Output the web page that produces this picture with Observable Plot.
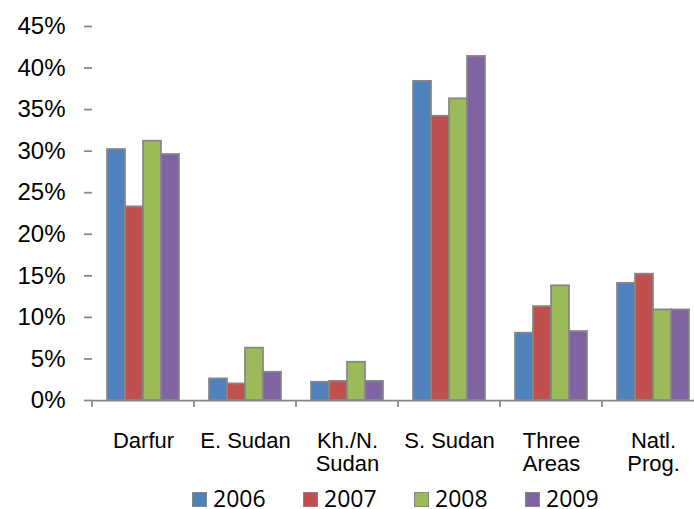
<!DOCTYPE html>
<html>
<head>
<meta charset="utf-8">
<script src="https://cdn.jsdelivr.net/npm/d3@7"></script>
<script src="https://cdn.jsdelivr.net/npm/@observablehq/plot@0.6"></script>
<style>
  html, body { margin: 0; padding: 0; background: #fff; overflow: hidden; }
  #chart svg { display: block; }
  .legend {
    display: flex;
    padding: 5px 0 0 192px;
    font-family: "Open Sans", sans-serif;
    font-size: 23px;
    line-height: 22px;
    color: #000;
  }
  .legend .item { display: flex; align-items: flex-start; width: 111px; }
  .legend .item span { display: inline-block; height: 22px; overflow: visible; }
  .legend .swatch {
    box-sizing: border-box;
    width: 15px; height: 15px;
    border: 1.5px solid #878787;
    margin: 5px 6px 0 0;
  }
</style>
</head>
<body>
<div id="chart"></div>
<script>
// Programme regions (line breaks mark the two-line labels)
const categories = ["Darfur", "E. Sudan", "Kh./N.\nSudan", "S. Sudan", "Three\nAreas", "Natl.\nProg."];
const years = ["2006", "2007", "2008", "2009"];

// Share of the total, in percent, per region
const share2006 = [30.2, 2.6, 2.2, 38.4, 8.1, 14.1];
const share2007 = [23.3, 2.0, 2.3, 34.2, 11.3, 15.2];
const share2008 = [31.2, 6.3, 4.6, 36.3, 13.8, 10.9];
const share2009 = [29.6, 3.4, 2.3, 41.4, 8.3, 10.9];

const yTicks = [0, 5, 10, 15, 20, 25, 30, 35, 40, 45];
const yearColors = ["#4F81BD", "#C0504D", "#9BBB59", "#8064A2"];
const axisGray = "#878787";

const series = [share2006, share2007, share2008, share2009];
const rows = years.flatMap((year, i) =>
  categories.map((category, j) => ({category, year, value: series[i][j]}))
);

const plot = Plot.plot({
  width: 694,
  height: 482,
  marginLeft: 90,
  marginRight: -11,
  marginTop: 26,
  marginBottom: 82,
  style: {fontFamily: '"Liberation Sans", Arial, sans-serif', background: "#fff", color: "#000"},
  fx: {domain: categories, padding: 0},
  x: {domain: years, paddingInner: 0, paddingOuter: 0.7, axis: null},
  y: {domain: [0, 45]},
  color: {domain: years, range: yearColors},
  marks: [
    Plot.barY(rows, {fx: "category", x: "year", y: "value", fill: "year", stroke: axisGray, strokeWidth: 1.75}),
    Plot.ruleY([0], {stroke: axisGray, strokeWidth: 1.75}),
    Plot.axisY({
      ticks: yTicks,
      tickFormat: d => d + "%",
      tickSize: 8,
      tickPadding: 19,
      fontSize: 24,
      label: null,
      line: true,
      stroke: axisGray,
      strokeWidth: 1.75,
      fill: "#000"
    }),
    Plot.axisFx({
      anchor: "bottom",
      tickSize: 0,
      tickPadding: 31,
      fontSize: 22,
      lineHeight: 1.05,
      label: null,
      fill: "#000"
    })
  ]
});

// Small divider ticks below the baseline, between the region groups
const fx = plot.scale("fx");
const y0 = plot.scale("y").apply(0);
const edges = categories.map(c => fx.apply(c)).concat([fx.apply(categories[categories.length - 1]) + fx.bandwidth]);
d3.select(plot).append("g")
  .attr("stroke", axisGray)
  .attr("stroke-width", 1.75)
  .selectAll("line")
  .data(edges)
  .join("line")
  .attr("x1", d => d).attr("x2", d => d)
  .attr("y1", y0).attr("y2", y0 + 7);

document.getElementById("chart").append(plot);

// Legend row below the chart
const legend = d3.select("body").append("div").attr("class", "legend");
const items = legend.selectAll(".item").data(years).join("div").attr("class", "item");
items.append("div").attr("class", "swatch").style("background", (d, i) => yearColors[i]);
items.append("span").text(d => d);
</script>
</body>
</html>
